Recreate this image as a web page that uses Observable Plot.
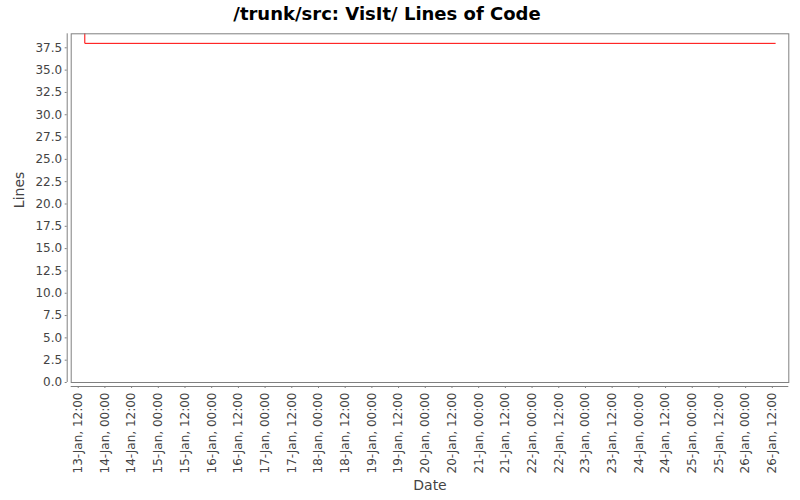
<!DOCTYPE html>
<html>
<head>
<meta charset="utf-8">
<script src="https://cdn.jsdelivr.net/npm/d3@7"></script>
<script src="https://cdn.jsdelivr.net/npm/@observablehq/plot@0.6"></script>
<style>
  html, body { margin: 0; padding: 0; background: #fff; }
  #wrap { width: 800px; height: 500px; position: relative; overflow: hidden; }
  #title { position: absolute; left: 0; top: 0; width: 774px; height: 27px; text-align: center;
           font: bold 18px "DejaVu Sans", sans-serif; line-height: 27px; color: #000; }
  #chart { position: absolute; left: 0; top: 27px; }
</style>
</head>
<body>
<div id="wrap">
  <div id="title">/trunk/src: VisIt/ Lines of Code</div>
  <div id="chart"></div>
</div>
<script>
// Data (UTC timestamps)
const dates = ["2000-01-13T14:58Z", "2000-01-13T14:58Z", "2000-01-26T13:18Z"];
const lines = [40, 38, 38];

const xDomain = ["2000-01-13T08:51Z", "2000-01-26T19:24Z"];
const yDomain = [0, 39.07];
const yTicks = [0, 2.5, 5, 7.5, 10, 12.5, 15, 17.5, 20, 22.5, 25, 27.5, 30, 32.5, 35, 37.5];
const xTickStart = "2000-01-13T12:00Z";
const xTickEnd = "2000-01-26T12:00Z";

const data = dates.map((d, i) => ({date: new Date(d), value: lines[i]}));
const xTicks = d3.utcHour.every(12).range(new Date(xTickStart), new Date(new Date(xTickEnd).getTime() + 1));
const fmt = d3.utcFormat("%d-%b, %H:%M");

const x0 = new Date(xDomain[0]), x1 = new Date(xDomain[1]);

const chart = Plot.plot({
  width: 800,
  height: 473,
  marginTop: 6.3,
  marginBottom: 118,
  marginLeft: 70.7,
  marginRight: 11.7,
  style: {fontFamily: "DejaVu Sans, sans-serif", fontSize: "12px", color: "#444", background: "#fff"},
  x: {type: "utc", domain: [x0, x1]},
  y: {domain: yDomain},
  marks: [
    Plot.line(data, {x: "date", y: "value", stroke: "#ff0000", strokeWidth: 1, clip: true}),
    Plot.frame({stroke: "#808080", strokeWidth: 1}),
    // axis lines (offset from the plot area)
    Plot.ruleX([x0], {dx: -4, stroke: "#808080"}),
    Plot.ruleY([0], {dy: 4, stroke: "#808080"}),
    Plot.axisY(yTicks, {
      tickFormat: d => d.toFixed(1), tickSize: 2, tickPadding: 3, dx: -4,
      stroke: "#808080", fill: "#444", fontSize: 12, label: null
    }),
    Plot.axisX(xTicks, {
      tickFormat: fmt, tickSize: 2, tickPadding: 4, dy: 4, tickRotate: -90,
      stroke: "#808080", fill: "#444", fontSize: 12, label: null
    }),
    Plot.text(["Lines"], {frameAnchor: "left", dx: -52, rotate: -90, fontSize: 14, fill: "#444", fontWeight: 500}),
    Plot.text(["Date"], {x: () => new Date(d3.mean([x0, x1].map(Number))), frameAnchor: "bottom", dy: 107, fontSize: 14, fill: "#444", fontWeight: 500})
  ]
});
document.getElementById("chart").appendChild(chart);
</script>
</body>
</html>
